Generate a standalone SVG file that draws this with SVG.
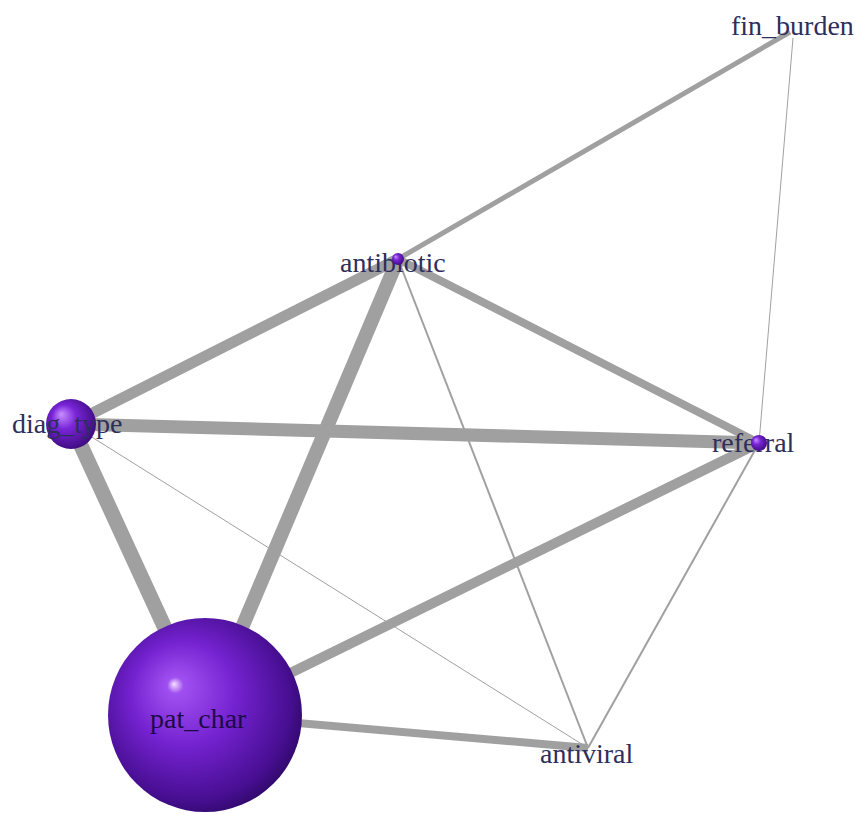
<svg xmlns="http://www.w3.org/2000/svg" width="863" height="814" viewBox="0 0 863 814">
<defs>
<radialGradient id="sph" cx="0.45" cy="0.45" r="0.6" fx="0.34" fy="0.34">
<stop offset="0" stop-color="#f4e0ff"/>
<stop offset="0.07" stop-color="#a050f0"/>
<stop offset="0.45" stop-color="#7422d0"/>
<stop offset="0.85" stop-color="#460e90"/>
<stop offset="1" stop-color="#2c0862"/>
</radialGradient>
<radialGradient id="sphS" cx="0.45" cy="0.45" r="0.6" fx="0.3" fy="0.3">
<stop offset="0" stop-color="#c890ff"/>
<stop offset="0.4" stop-color="#7a25d8"/>
<stop offset="1" stop-color="#3a0a7a"/>
</radialGradient>
<style>
.e{stroke:#a0a0a0;stroke-linecap:butt;fill:none}
.t{font-family:"Liberation Serif","Times New Roman",serif;font-size:28px;fill:#2e2e5a}
</style>
</defs>
<rect width="863" height="814" fill="#ffffff"/>
<g id="edges">
<line class="e" x1="398" y1="259" x2="790" y2="32" stroke-width="5"/>
<line class="e" x1="759" y1="443" x2="793" y2="38" stroke-width="1"/>
<line class="e" x1="71" y1="424" x2="398" y2="259" stroke-width="11"/>
<line class="e" x1="205" y1="715" x2="398" y2="259" stroke-width="14"/>
<line class="e" x1="398" y1="259" x2="759" y2="443" stroke-width="8"/>
<line class="e" x1="398" y1="259" x2="588" y2="748" stroke-width="2"/>
<line class="e" x1="71" y1="424" x2="759" y2="443" stroke-width="13"/>
<line class="e" x1="71" y1="424" x2="205" y2="715" stroke-width="15"/>
<line class="e" x1="71" y1="424" x2="588" y2="748" stroke-width="1"/>
<line class="e" x1="205" y1="715" x2="759" y2="443" stroke-width="10"/>
<line class="e" x1="205" y1="715" x2="588" y2="748" stroke-width="8"/>
<line class="e" x1="759" y1="443" x2="588" y2="748" stroke-width="2"/>
</g>
<g id="fin_burden">
<text class="t" x="731" y="35">fin_burden</text>
</g>
<g id="antibiotic">
<text class="t" x="340" y="272">antibiotic</text>
<circle cx="398" cy="259" r="6" fill="url(#sphS)"/>
</g>
<g id="diag_type">
<circle cx="71" cy="424" r="25" fill="url(#sphS)"/>
<text class="t" x="12" y="433">diag_type</text>
</g>
<g id="referral">
<text class="t" x="712" y="452">referral</text>
<circle cx="759" cy="443" r="8" fill="url(#sphS)"/>
</g>
<g id="pat_char">
<circle cx="205" cy="715" r="97" fill="url(#sph)"/>
<text class="t" x="150" y="728" style="fill:#1e0a48">pat_char</text>
</g>
<g id="antiviral">
<text class="t" x="540" y="763">antiviral</text>
</g>
</svg>
